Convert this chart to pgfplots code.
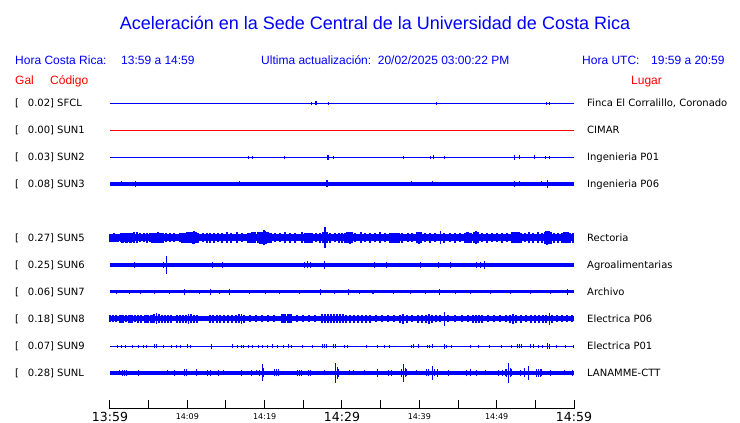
\documentclass[border=0pt]{standalone}
\usepackage{fontspec}
\setmainfont{DejaVu Sans}
\newfontfamily\lib{Liberation Sans}
\usepackage{pgfplots}
\pgfplotsset{compat=1.18}
\definecolor{myblue}{RGB}{0,0,255}
\definecolor{myred}{RGB}{255,0,0}
\begin{document}
\begin{tikzpicture}
\begin{axis}[
  scale only axis, width=464pt, height=409pt,
  xmin=110, xmax=574, ymin=14, ymax=423,
  axis x line*=bottom, axis y line=none, clip=false,
  xtick={110,148.667,187.333,226,264.667,303.333,342,380.667,419.333,458,496.667,535.333,574},
  xticklabels={\mbox{\fontsize{12.5}{14}\selectfont 13:59},{},\mbox{\fontsize{8}{9}\selectfont 14:09},{},\mbox{\fontsize{8}{9}\selectfont 14:19},{},\mbox{\fontsize{12.5}{14}\selectfont 14:29},{},\mbox{\fontsize{8}{9}\selectfont 14:39},{},\mbox{\fontsize{8}{9}\selectfont 14:49},{},\mbox{\fontsize{12.5}{14}\selectfont 14:59}},
  major tick length=9pt, tick align=inside,
  x axis line style={line width=1pt, draw=black, -},
  tick style={line width=1pt, draw=black},
  xticklabel style={anchor=center, inner sep=0pt, yshift=-7.5pt},
  axis on top,
  base/.style={draw=myblue, line width=#1},
  spk/.style={draw=myblue, line width=1pt, quiver={u=0, v={2*\thisrow{a}}}},
]
\path (axis cs:0,0) rectangle (axis cs:740,423);

% ---- SFCL
\addplot[base=1pt] coordinates {(110,319.5) (574,319.5)};
\addplot[spk] table[x=x, y expr={319.5-\thisrow{a}}] {
x a
311.7 1.8
315.5 2
316.5 2
329 1.2
436 1.2
546.3 1.8
549 1.2
};
% ---- SUN1
\addplot[draw=myred, line width=1pt] coordinates {(110,292.5) (574,292.5)};
% ---- SUN2
\addplot[base=1pt] coordinates {(110,265.5) (574,265.5)};
\addplot[spk] table[x=x, y expr={265.5-\thisrow{a}}] {
x a
248.3 1.2
253 1.5
284.7 1.8
327.5 2.2
328.5 2.2
334 1.8
403.3 1.5
430 1.3
433 2
444.3 1.2
514.7 2.2
519.5 2
534 2
545.7 1.8
549 1.8
};
% ---- SUN3
\addplot[base=3.8pt] coordinates {(110,239) (574,239)};
\addplot[spk] table[x=x, y expr={239-\thisrow{a}}] {
x a
121.3 2.5
135.3 3
240 2.5
326.5 3.5
328 3.5
411.7 2.5
432.7 2.5
484 2
514.7 3
519.5 2.5
541.7 2.5
547.5 4
};
% ---- SUN5
\addplot[base=7pt] coordinates {(110,185) (574,185)};
\addplot[spk, line width=1.3pt] table[x=x, y expr={185-\thisrow{a}}] {
x a
110 4
111 4
112 4
113 4
114 4.5
115 4
116 4
117 4
118 4
121 4.5
122 5
123 5
124 4.5
125 4.5
126 5
127 5
128 4.5
129 4.5
130 5
131 5
132 4.5
134 5.5
137 5.5
140 4.5
144 4.5
147 5
150 4.5
152 5
153 5
155 5
156 5
158 5.5
160 5
161 5
163 5
166 4.5
170 4.5
174 4.5
180 4.5
182 5
183 5
185 5
186 5
187 5.5
189 5.5
190 5.5
191 5.5
193 6
194 6.5
196 5.5
197 5
198 5
203 4.5
207 5
210 5
214 5
218 4.5
222 5
227 5.5
231 5
237 5.5
242 4.5
248 5
250 5
252 5.5
254 5.5
255 5.5
258 5.5
260 6
261 6
262 6
263 6
264 7.5
265 6.5
266 6
268 5.5
270 5
271 5
275 4.5
280 4.5
285 5.5
290 5
295 5
302 5.5
305 5
306 5
308 5
309 5
311 5
312 5
316 4.5
320 5
323 5.5
325 10.5
327 5.5
330 5
335 4.5
339 5
342 5
345 5
347 5.5
348 5.5
349 5.5
350 6
351 5.5
352 5.5
355 4.5
361 5.5
365 4.5
370 5
375 4.5
380 5.5
385 4.5
390 5
392 5
393 5
395 5
396 5
398 5
399 5
402 5
408 4.5
412 4.5
417 5.5
418 5.5
419 6
420 5.5
421 5.5
425 4.5
430 5
435 4.5
440.7 6.5
444 5
450 4.5
455 5
460 4.5
465 5
467 5.5
468 5.5
470 5
471 5
474 5.5
476 6.5
478 5.5
482 4.5
487 5
492 4.5
497 4.5
502 5
507 4.5
512 5.5
513 5.5
515 5.5
516 5.5
518 5.5
519 5.5
521 5
525 4.5
529 5.5
533 5
538 5.5
542 5
545 6
546 6.5
547 7
548 6.5
549 6.5
550 6
551 6
554 5
558 5
562 5
564 5.5
565 5.5
566 5.5
567 5.5
568 5.5
570 5
573 5
};
% ---- SUN6
\addplot[base=3.5pt] coordinates {(110,158) (574,158)};
\addplot[spk] table[x=x, y expr={158-\thisrow{a}}] {
x a
112 2.2
120 2.2
128 2.2
135 2.7
143 2.2
150 2.2
164 3
167 9
170 2.2
180 2.2
190 2.2
200 2.2
213 2.7
223 3
232 2.2
245 2.2
255 2.2
265 2.2
275 2.2
285 2.2
295 2.2
305 3
308 3.5
311 3
318 2.2
325 4
335 2.2
345 2.2
355 2.2
365 2.2
374 2.7
386 2.7
395 2.2
405 2.2
420 2.7
430 2.2
438 2.7
450 2.7
460 2.2
476 2.7
480 2.7
484 4
490 2.2
500 2.2
510 2.2
520 2.2
530 2.2
540 2.2
550 2.2
560 2.2
570 2.2
};
% ---- SUN7
\addplot[base=3pt] coordinates {(110,131) (574,131)};
\addplot[spk] table[x=x, y expr={131-\thisrow{a}}] {
x a
116.7 2.2
130 2
141 2.2
155 2
170 2
185 2.7
200 2
211 3
220 2
230 3
250 2
265.7 2.4
280 2
300 2
320.7 2.7
335 2
349 2.7
360 2
373 2.2
393 2.2
410 2
425 2
439 3
455 2
470 2.4
490 2
510 2
530 2
550 2
567.7 2.7
};
% ---- SUN8
\addplot[base=5pt] coordinates {(110,104) (574,104)};
\addplot[spk, line width=1.3pt] table[x=x, y expr={104-\thisrow{a}}] {
x a
110 3.5
113 3.5
116 3.5
120 4
122 4
123 4
126 3.5
129 4
131 4
132 4
135 3.5
138 4
141 4
145 4
147 4
148 4
151 4
153 4
154 4.5
156.7 5.5
159 4.5
162 4
165 4
168 4
171 4
177 4
180 4
183 4
186 4
188.3 5
191 4.5
194 4
197 4
210 4
213 4
217 4
220 4
224 4
228 4
232 4
236 4
239 4.5
241.7 5
244 4
250 3.5
256 3.5
262 3.5
268 3.5
274 3.5
282 4.5
284 4.5
285 4.5
288 4.5
289 4.5
291 4.5
297 3.5
303 3.5
309 3.5
315 3.5
322 4.5
325 4.5
328 4.5
331 4.5
334 4.5
337 4.5
340 4.5
343 4.5
346 4
350 4
354 4
358 4
362 4
366 4
370 4
376 3.5
382 3.5
388 3.5
394 3.5
400 4
403 5
407 4
412 3.5
418 4
422 4
426 4
429 5
432 4
436 3.5
440 3.5
444.3 7
448 3.5
455 3.5
462 3.5
468 3.5
473 4
476 4
479 4
482 4
488 3.5
494 3.5
500 3.5
506 3.5
510 4
513 5
516 4
521 4
526 3.5
531 4
535 4
539 4
543 4
546 4
549.3 6
552 4
557 3.5
562 3.5
567 3.5
572 3.5
};
% ---- SUN9
\addplot[base=1pt] coordinates {(110,76.5) (574,76.5)};
\addplot[spk] table[x=x, y expr={76.5-\thisrow{a}}] {
x a
117.7 1.5
122 1.5
126 1.5
133 1.5
139 1.5
144 1.5
147 1.5
155 2
157 2
164 1.5
172 1.5
177 1.5
181 1.5
187.7 2
191 1.5
211.7 2.5
232.7 2
238 1.5
242 1.5
244 1.5
249 1.5
253 1.5
259 1.5
263 1.5
268 1.5
272.7 2
278 1.5
284 1.5
288.3 2
292 1.5
302.3 1.5
313 1.5
323 2
325 2
327 2
334 2
336 2
345 1.5
348 1.5
366.7 1.5
377 1.5
384 1.5
389 1.5
411 1.5
413 2
418.3 2
427 1.5
429 1.5
432.7 2
444.3 2.5
446.7 1.5
451.7 1.5
470 1.5
478 1.5
489 1.5
501.7 1.5
511.7 1.5
517 2
519 2
521 2
530 2
533 2
538 1.5
542 1.5
547 3
549 2.5
556.7 1.5
565 1.5
573 1.5
};
% ---- SUNL
\addplot[base=4pt] coordinates {(110,50) (574,50)};
\addplot[spk] table[x=x, y expr={50-\thisrow{a}}] {
x a
120 2.5
123 3
125 3
127 3
138.3 3
167.7 2.5
175 3
184.3 3.5
186.7 3.5
196.7 3.5
207.7 3
211 3
218.3 3
223.3 2.5
241.7 3
251.7 3
256.7 2.5
260 3
262.3 8.5
263.7 4.5
275 3.5
276.5 3.5
278.3 3.5
298 3
300 3
302 3
309 3
311 3
324.3 2.5
336 10
337.3 6
339 4
350 2.5
353.3 2.5
365 2.5
377.3 4
388.3 3
391.7 3
401.7 4
403.3 9
405 4.5
406.7 3.5
416.7 2.5
426.7 3.5
428.3 3.5
432.7 6.7
434 3.5
437.7 4
448.3 3
466 3
470 3.5
476 3
485.7 2.5
498.3 3
502 3
505 3.5
506.7 4
508.3 10
510 4.5
511.7 3.5
520 3
524.3 4.5
528.3 7.3
536.7 4
538.5 4
540 4
541.7 3.5
550 3
564 2.5
572.3 3
};

% ---- texts
\node[anchor=base, inner sep=0pt, font=\lib\fontsize{18}{20}\selectfont, text=myblue] at (axis cs:375,393.5) {Aceleración en la Sede Central de la Universidad de Costa Rica};
\begin{scope}[every node/.style={anchor=base west, inner sep=0pt, font=\lib\fontsize{12}{14}\selectfont, text=myblue}]
\node at (axis cs:15,358.7) {Hora Costa Rica:};
\node at (axis cs:121,358.7) {13:59 a 14:59};
\node at (axis cs:261,358.7) {Ultima actualización:\ \ 20/02/2025 03:00:22 PM};
\node at (axis cs:582,358.7) {Hora UTC:};
\node at (axis cs:651,358.7) {19:59 a 20:59};
\node[text=myred] at (axis cs:15,338.7) {Gal};
\node[text=myred] at (axis cs:50,338.7) {Código};
\node[text=myred] at (axis cs:631,338.7) {Lugar};
\end{scope}
\begin{scope}[every node/.style={anchor=base west, inner sep=0pt, font=\fontsize{10}{12}\selectfont}]
\node at (axis cs:15,316) {[}; \node at (axis cs:27.7,316) {0.02] SFCL}; \node at (axis cs:587,316) {Finca El Corralillo, Coronado};
\node at (axis cs:15,289) {[}; \node at (axis cs:27.7,289) {0.00] SUN1}; \node at (axis cs:587,289) {CIMAR};
\node at (axis cs:15,262) {[}; \node at (axis cs:27.7,262) {0.03] SUN2}; \node at (axis cs:587,262) {Ingenieria P01};
\node at (axis cs:15,235) {[}; \node at (axis cs:27.7,235) {0.08] SUN3}; \node at (axis cs:587,235) {Ingenieria P06};
\node at (axis cs:15,181) {[}; \node at (axis cs:27.7,181) {0.27] SUN5}; \node at (axis cs:587,181) {Rectoria};
\node at (axis cs:15,154) {[}; \node at (axis cs:27.7,154) {0.25] SUN6}; \node at (axis cs:587,154) {Agroalimentarias};
\node at (axis cs:15,127) {[}; \node at (axis cs:27.7,127) {0.06] SUN7}; \node at (axis cs:587,127) {Archivo};
\node at (axis cs:15,100) {[}; \node at (axis cs:27.7,100) {0.18] SUN8}; \node at (axis cs:587,100) {Electrica P06};
\node at (axis cs:15,73) {[}; \node at (axis cs:27.7,73) {0.07] SUN9}; \node at (axis cs:587,73) {Electrica P01};
\node at (axis cs:15,46) {[}; \node at (axis cs:27.7,46) {0.28] SUNL}; \node at (axis cs:587,46) {LANAMME-CTT};
\end{scope}
\end{axis}
\end{tikzpicture}
\end{document}
